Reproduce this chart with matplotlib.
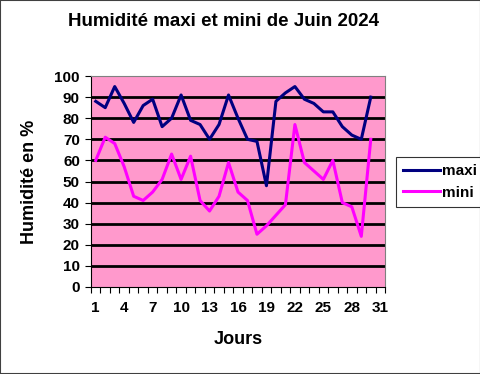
import numpy as np
import matplotlib
matplotlib.use('Agg')
import matplotlib.pyplot as plt
from matplotlib.patches import Rectangle

plt.rcParams['font.family'] = ['Liberation Sans', 'DejaVu Sans']

# Daily humidity readings, June 2024
jours = list(range(1, 31))
maxi = [88, 85, 95, 87, 78, 86, 89, 76, 80, 91, 79, 77, 70, 77, 91,
        80, 70, 69, 48, 88, 92, 95, 89, 87, 83, 83, 76, 72, 70, 90]
mini = [60, 71, 68, 57, 43, 41, 45, 51, 63, 51, 62, 41, 36, 43, 59,
        45, 41, 25, 29, 34, 39, 77, 59, 55, 51, 60, 40, 38, 24, 70]
xtick_labels = [1, 4, 7, 10, 13, 16, 19, 22, 25, 28, 31]

fig = plt.figure(figsize=(4.81, 3.74), dpi=100)
ax = fig.add_axes([91/481, 1 - 287/374, 294/481, 211/374])
ax.set_facecolor('#FF99CC')

for v in range(10, 100, 10):
    ax.axhline(v, color='black', linewidth=2, zorder=1)

ax.plot(jours, maxi, color='#000080', linewidth=2.2, label='maxi', zorder=3)
ax.plot(jours, mini, color='#FF00FF', linewidth=2.2, label='mini', zorder=3)

ax.set_xlim(0.5, 31.5)
ax.set_ylim(0, 100)
ax.set_yticks(range(0, 101, 10))
ax.set_xticks(xtick_labels)
ax.set_xticklabels([str(x) for x in xtick_labels])
ax.set_xticks(np.arange(0.5, 32, 1), minor=True)
ax.tick_params(axis='x', which='major', length=0, pad=10)
ax.tick_params(axis='x', which='minor', length=4, width=0.8)
ax.tick_params(axis='y', length=4, width=0.8, pad=4)
for lab in ax.get_xticklabels() + ax.get_yticklabels():
    lab.set_fontsize(11)
    lab.set_fontweight('bold')

ax.spines['left'].set_color('black')
ax.spines['bottom'].set_color('black')
ax.spines['top'].set_color('#808080')
ax.spines['right'].set_color('#808080')

fig.text(223/481, 1 - 22/374, 'Humidité maxi et mini de Juin 2024',
         ha='center', va='center', fontsize=13.5, fontweight='bold')
fig.text(30/481, 1 - 182/374, 'Humidité en %', rotation=90,
         ha='center', va='center', fontsize=13, fontweight='bold')
fig.text(238/481, 1 - 340/374, 'Jours',
         ha='center', va='center', fontsize=13, fontweight='bold')

leg = fig.legend(loc='center', bbox_to_anchor=(440/481, 1 - 182/374),
                 frameon=True, fancybox=False, handlelength=2.4,
                 handletextpad=0.1, borderpad=0.5, labelspacing=0.5,
                 prop={'weight': 'bold', 'size': 11})
leg.get_frame().set_edgecolor('black')
leg.get_frame().set_linewidth(0.8)

fig.patches.append(Rectangle((0, 0), 1, 1, transform=fig.transFigure,
                             fill=False, edgecolor='#404040', linewidth=1.5))

fig.savefig('out.png', dpi=100)
